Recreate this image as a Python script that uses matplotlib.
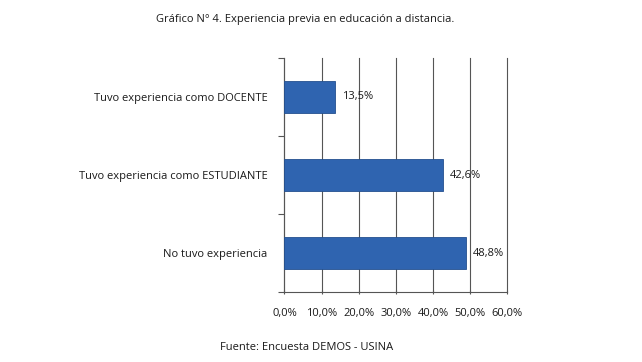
import matplotlib
matplotlib.use("Agg")
import matplotlib.pyplot as plt
from matplotlib.ticker import FuncFormatter, MultipleLocator

categories = ["No tuvo experiencia", "Tuvo experiencia como ESTUDIANTE", "Tuvo experiencia como DOCENTE"]
values = [48.8, 42.6, 13.5]
labels = ["48,8%", "42,6%", "13,5%"]
title = "Gráfico N° 4. Experiencia previa en educación a distancia."
source = "Fuente: Encuesta DEMOS - USINA"

plt.rcParams['font.family'] = ['Open Sans', 'DejaVu Sans']

fig = plt.figure(figsize=(6.42, 3.62), dpi=100)
ax = fig.add_axes([0.443, 0.193, 0.347, 0.647])

y = range(len(categories))
ax.barh(list(y), values, height=0.4, color="#2F64B0", edgecolor="#24508F", linewidth=0.6, zorder=3)
for yi, v, lab in zip(y, values, labels):
    ax.text(v + 2.0, yi, lab, va="center", ha="left", fontsize=8, color="#1a1a1a")

ax.set_xlim(0, 60)
ax.set_ylim(-0.5, 2.5)
ax.xaxis.set_major_locator(MultipleLocator(10))
ax.xaxis.set_major_formatter(FuncFormatter(lambda v, p: f"{v:.1f}%".replace(".", ",")))
ax.set_yticks([-0.5, 0.5, 1.5, 2.5])
ax.set_yticklabels([])
ax.set_yticks(list(y), minor=True)
ax.set_yticklabels(categories, minor=True)
ax.tick_params(axis="y", which="minor", length=0, pad=12, labelsize=8, labelcolor="#1a1a1a")
ax.tick_params(axis="y", which="major", length=4, direction="out", color="#555555")
ax.tick_params(axis="x", length=3, direction="inout", labelsize=8, labelcolor="#1a1a1a", color="#555555", pad=10)
ax.grid(axis="x", color="#555555", linewidth=0.8, zorder=0)
for gl in ax.get_xgridlines():
    gl.set_clip_on(False)
for s in ["top", "right"]:
    ax.spines[s].set_visible(False)
for s in ["left", "bottom"]:
    ax.spines[s].set_color("#555555")
    ax.spines[s].set_linewidth(0.8)

fig.text(0.475, 0.945, title, ha="center", va="center", fontsize=8, color="#1a1a1a")
fig.text(0.343, 0.04, source, ha="left", va="center", fontsize=8, color="#1a1a1a")

fig.savefig("out.png", dpi=100, facecolor="white")
